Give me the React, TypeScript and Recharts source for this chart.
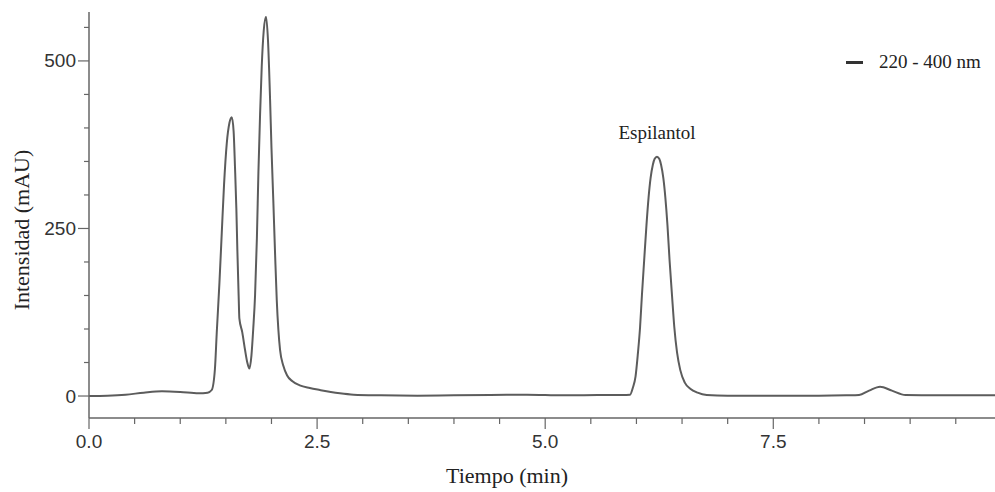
import React from 'react';
import { LineChart, Line, XAxis, YAxis, ReferenceDot, Label } from 'recharts';

const tiempos = [
  0.0, 0.2, 0.4, 0.6, 0.8, 1.0, 1.2, 1.3, 1.345, 1.38, 1.4, 1.43, 1.455, 1.48, 1.51, 1.54, 1.565,
  1.585, 1.6, 1.615, 1.626, 1.64, 1.648, 1.68, 1.71, 1.735, 1.758, 1.78, 1.8, 1.82, 1.84, 1.857,
  1.875, 1.893, 1.915, 1.94, 1.962, 1.985, 2.0, 2.02, 2.04, 2.058, 2.075, 2.094, 2.13, 2.17, 2.23,
  2.31, 2.42, 2.53, 2.65, 2.75, 2.9, 3.2, 3.6, 4.0, 4.4, 4.8, 5.2, 5.6, 5.85, 5.93, 5.96, 5.99,
  6.015, 6.04, 6.06, 6.085, 6.11, 6.133, 6.155, 6.18, 6.2, 6.225, 6.25, 6.27, 6.295, 6.317, 6.34,
  6.363, 6.39, 6.415, 6.445, 6.48, 6.53, 6.59, 6.67, 6.77, 7.0, 7.5, 8.0, 8.3, 8.44, 8.55, 8.67,
  8.8, 8.95, 9.3, 9.93,
];
const intensidad = [
  0, 0.5, 2, 5, 7, 6, 4, 5, 9, 40, 94, 170, 243, 315, 377, 408, 416,
  395, 342, 280, 218, 150, 116, 95, 69, 50, 41, 60, 100, 150, 235, 335,
  420, 491, 545, 566, 530, 441, 370, 292, 210, 143, 100, 69, 45, 31, 22,
  16, 12, 9, 6, 4, 2, 1, 0.5, 1, 1.5, 2, 1, 1.5, 1.5, 2, 12, 29,
  62, 103, 150, 203, 255, 296, 325, 345, 354, 357, 354, 345, 325, 296, 255,
  203, 150, 103, 65, 39, 20, 11, 5, 1.5, 0.5, 0.5, 0.5, 1, 1.5, 8, 14,
  8, 1.5, 1, 1,
];

const xTicks = [0, 0.5, 1, 1.5, 2, 2.5, 3, 3.5, 4, 4.5, 5, 5.5, 6, 6.5, 7, 7.5, 8, 8.5, 9, 9.5];
const xMajor = [0, 2.5, 5, 7.5];
const yTicks = [0, 50, 100, 150, 200, 250, 300, 350, 400, 450, 500, 550];
const yMajor = [0, 250, 500];

const pico = { t: 6.225, v: 357, nombre: 'Espilantol' };
const serie = '220 - 400 nm';

const data = tiempos.map((t, i) => ({ t, v: intensidad[i] }));

const ejeColor = '#666';
const lineaColor = '#5c5c5c';
const serif = '"Liberation Serif", "Times New Roman", serif';
const sans = '"Liberation Sans", Arial, sans-serif';

const YTick = (props: any) => {
  const { x, y, payload } = props;
  const major = yMajor.includes(payload.value);
  return (
    <g>
      <line x1={x} x2={x - (major ? 11 : 5)} y1={y} y2={y} stroke={ejeColor} strokeWidth={1.2} />
      {major && (
        <text x={x - 13} y={y} textAnchor="end" dominantBaseline="central" fontSize={19} fontFamily={sans} fill="#333">
          {payload.value}
        </text>
      )}
    </g>
  );
};

const XTick = (props: any) => {
  const { x, y, payload } = props;
  const major = xMajor.includes(payload.value);
  return (
    <g>
      <line x1={x} x2={x} y1={y} y2={y + (major ? 11 : 6)} stroke={ejeColor} strokeWidth={1.2} />
      {major && (
        <text x={x} y={y + 30} textAnchor="middle" fontSize={19} fontFamily={sans} fill="#333">
          {payload.value.toFixed(1)}
        </text>
      )}
    </g>
  );
};

export default function App() {
  return (
    <div style={{ position: 'absolute', left: 0, top: 0, width: 995, height: 492, background: '#fff' }}>
      <LineChart width={995} height={492} data={data} margin={{ top: 12, right: 0, bottom: 0, left: 0 }}>
        <XAxis
          dataKey="t"
          type="number"
          domain={[0, 9.93]}
          ticks={xTicks}
          interval={0}
          allowDataOverflow
          height={74}
          tickSize={0}
          tickMargin={0}
          tickLine={false}
          axisLine={{ stroke: ejeColor, strokeWidth: 1.5 }}
          tick={<XTick />}
        >
          <Label
            content={({ viewBox }: any) => (
              <text
                x={viewBox.x + viewBox.width / 2 - 35}
                y={viewBox.y + 65}
                textAnchor="middle"
                fontSize={22}
                fontFamily={serif}
                fill="#222"
              >
                Tiempo (min)
              </text>
            )}
          />
        </XAxis>
        <YAxis
          type="number"
          domain={[-32.8, 573]}
          ticks={yTicks}
          interval={0}
          allowDataOverflow
          width={89}
          tickSize={0}
          tickMargin={0}
          tickLine={false}
          axisLine={{ stroke: ejeColor, strokeWidth: 1.5 }}
          tick={<YTick />}
        >
          <Label
            content={({ viewBox }: any) => {
              const cx = viewBox.x + 21;
              const cy = viewBox.y + viewBox.height / 2 + 15;
              return (
                <text
                  x={cx}
                  y={cy}
                  transform={`rotate(-90 ${cx} ${cy})`}
                  textAnchor="middle"
                  dominantBaseline="central"
                  fontSize={22}
                  fontFamily={serif}
                  fill="#222"
                >
                  Intensidad (mAU)
                </text>
              );
            }}
          />
        </YAxis>
        <Line
          type="monotone"
          dataKey="v"
          stroke={lineaColor}
          strokeWidth={2}
          dot={false}
          isAnimationActive={false}
        />
        <ReferenceDot x={pico.t} y={pico.v} r={1} fill="none" stroke="none">
          <Label value={pico.nombre} position="top" offset={17} fontSize={19} fontFamily={serif} fill="#222" />
        </ReferenceDot>
      </LineChart>
      {/* leyenda dibujada aparte para no restar altura al área del gráfico */}
      <div
        style={{
          position: 'absolute',
          left: 846,
          top: 52,
          display: 'flex',
          alignItems: 'center',
          fontFamily: serif,
          fontSize: 19,
          lineHeight: '20px',
          color: '#222',
          whiteSpace: 'nowrap',
        }}
      >
        <span style={{ display: 'inline-block', width: 17, height: 3, background: '#333', marginRight: 16 }} />
        {serie}
      </div>
    </div>
  );
}
